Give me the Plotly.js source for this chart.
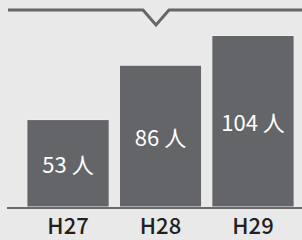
<!DOCTYPE html>
<html><head><meta charset="utf-8">
<script src="https://cdn.plot.ly/plotly-3.0.1.min.js"></script>
<style>html,body{margin:0;padding:0;background:#e9e9e9;}#chart{width:302px;height:240px;}</style>
</head><body><div id="chart"></div>
<script>
const categories = ["H27", "H28", "H29"];
const values = [53, 86, 104];
const unit = "人";
const labels = values.map(v => v + " " + unit);

const W = 302, H = 240, ml = 7, mb = 33;
const pw = W - ml, ph = H - mb;
const px = x => (x - ml) / pw;
const py = y => (ph - y) / ph;

const trace = {
  type: "bar",
  x: categories,
  y: values,
  text: labels,
  textposition: "inside",
  insidetextanchor: "middle",
  textangle: 0,
  insidetextfont: {family: "Noto Sans CJK JP", size: 22, color: "#ffffff"},
  marker: {color: "#646569", line: {color: "#f4f4f4", width: 1}},
  width: 0.89,
  hoverinfo: "none"
};

const layout = {
  width: W, height: H,
  margin: {l: ml, r: 0, t: 0, b: mb, pad: 0},
  paper_bgcolor: "#e9e9e9",
  plot_bgcolor: "rgba(0,0,0,0)",
  showlegend: false,
  xaxis: {
    type: "category",
    range: [-0.66, 2.53],
    showgrid: false, zeroline: false,
    showline: true, linecolor: "#6a6a6a", linewidth: 1.5,
    ticks: "", ticklabelstandoff: -1,
    tickfont: {family: "Noto Sans CJK JP", size: 22, color: "#231f20", weight: 500}
  },
  yaxis: {
    range: [0, 125.5],
    visible: false, showgrid: false, zeroline: false
  },
  shapes: [{
    type: "path", xref: "paper", yref: "paper",
    path: `M ${px(8)} ${py(10)} L ${px(143)} ${py(10)} L ${px(156)} ${py(25)} L ${px(169)} ${py(10)} L ${px(302)} ${py(10)}`,
    line: {color: "#666666", width: 3}
  }]
};

Plotly.newPlot("chart", [trace], layout, {staticPlot: true, displayModeBar: false});
</script></body></html>
